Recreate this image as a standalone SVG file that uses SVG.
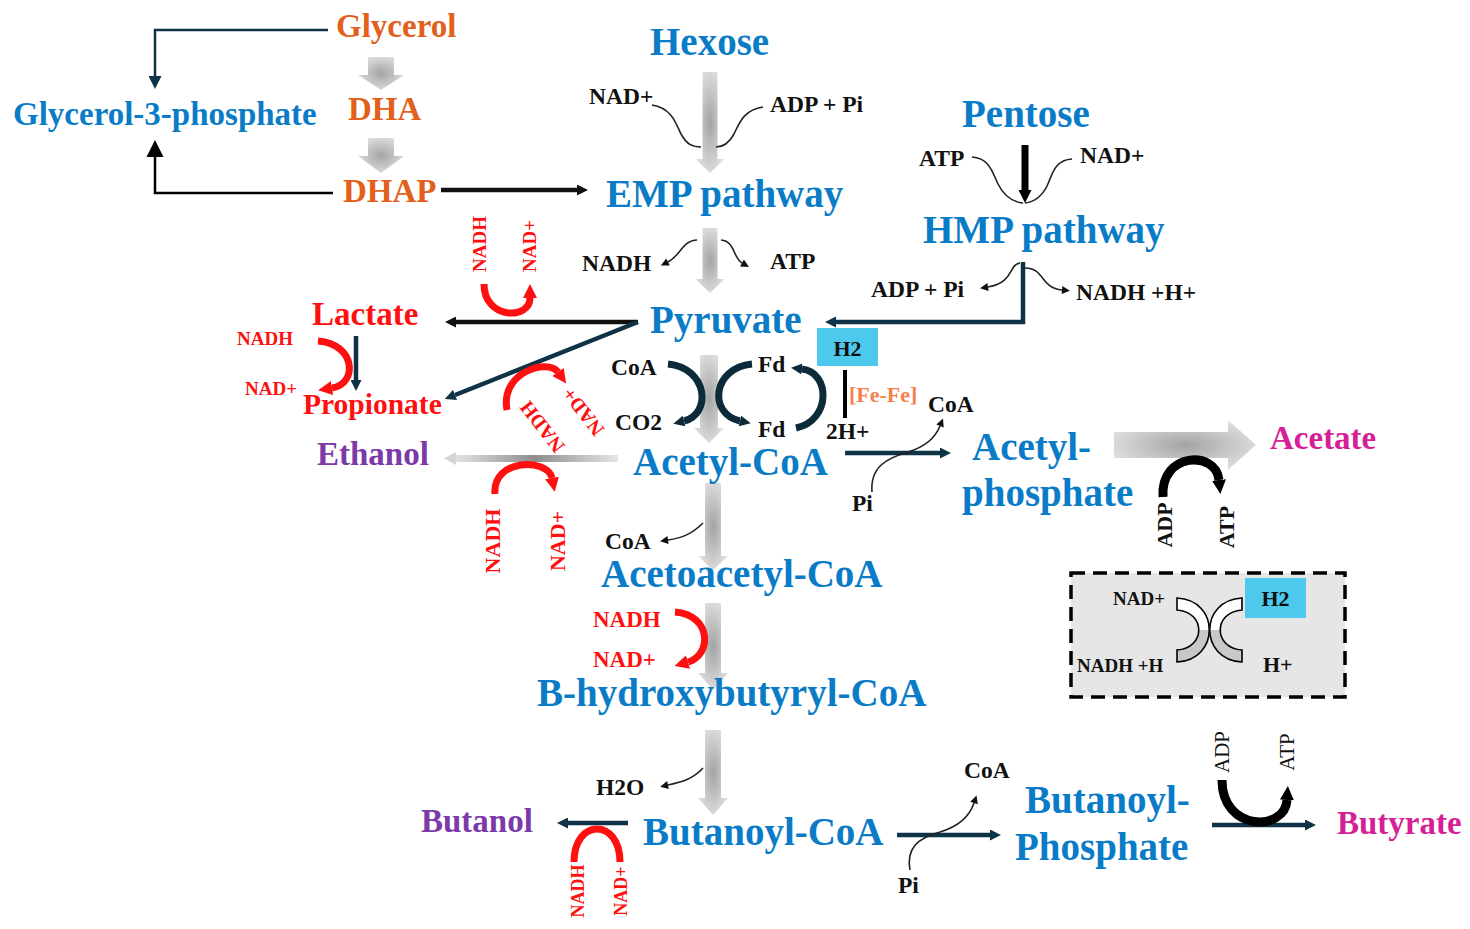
<svg xmlns="http://www.w3.org/2000/svg" width="1470" height="929" viewBox="0 0 1470 929">
<style>
text{font-family:'Liberation Serif','Times New Roman',serif;font-weight:bold}
.blue{fill:#0a7cc7;font-size:39px}
.blue32{fill:#0a7cc7;font-size:33px}
.org{fill:#e2601a;font-size:33px}
.red{fill:#ff1010;font-size:33px}
.pur{fill:#7b3aa8;font-size:33px}
.mag{fill:#d61f96;font-size:33px}
.k{fill:#111;font-size:23.5px}
.rs{fill:#ff1010}
.rot{dominant-baseline:central;text-anchor:middle}
.blk{fill:url(#gr);stroke:none}
.ln{fill:none;stroke:#0f3346;stroke-width:4.5}
.lk{fill:none;stroke:#111;stroke-width:4.5}
.th{fill:none;stroke:#222;stroke-width:1.6}
.arcd{fill:none;stroke:#0c2a3a;stroke-width:7}
.arcr{fill:none;stroke:#ff1010;stroke-width:7}
.arck{fill:none;stroke:#000;stroke-width:9}
.h2{fill:#4dc9ee}
</style>
<defs>
<radialGradient id="gr" cx="0.5" cy="0.5" r="0.6">
<stop offset="0" stop-color="#a4a4a4"/><stop offset="1" stop-color="#e4e4e4"/>
</radialGradient>
<linearGradient id="gh" x1="0" y1="0" x2="1" y2="0">
<stop offset="0" stop-color="#e6e6e6"/><stop offset="0.5" stop-color="#8e8e8e"/><stop offset="1" stop-color="#e6e6e6"/>
</linearGradient>
<linearGradient id="band" x1="0" y1="0" x2="0" y2="1">
<stop offset="0.5" stop-color="#ffffff"/><stop offset="0.5" stop-color="#c8c8c8"/>
</linearGradient>
<marker id="mS" viewBox="0 0 10 10" refX="0" refY="5" markerWidth="16" markerHeight="13" markerUnits="userSpaceOnUse" orient="auto"><path d="M0,0L10,5L0,10Z" fill="#0f3346"/></marker>
<marker id="mB" viewBox="0 0 10 10" refX="0" refY="5" markerWidth="17" markerHeight="24" markerUnits="userSpaceOnUse" orient="auto"><path d="M0,0L10,5L0,10Z" fill="#000"/></marker>
<marker id="mK" viewBox="0 0 10 10" refX="0" refY="5" markerWidth="13" markerHeight="11" markerUnits="userSpaceOnUse" orient="auto"><path d="M0,0L10,5L0,10Z" fill="#111"/></marker>
<marker id="mD" viewBox="0 0 10 10" refX="0" refY="5" markerWidth="13" markerHeight="11" markerUnits="userSpaceOnUse" orient="auto"><path d="M0,0L10,5L0,10Z" fill="#0f3346"/></marker>
<marker id="mP" viewBox="0 0 10 10" refX="0" refY="5" markerWidth="13" markerHeight="16" markerUnits="userSpaceOnUse" orient="auto"><path d="M0,0L10,5L0,10Z" fill="#000"/></marker>
<marker id="mT" viewBox="0 0 10 10" refX="0" refY="5" markerWidth="9" markerHeight="8" markerUnits="userSpaceOnUse" orient="auto"><path d="M0,0L10,5L0,10Z" fill="#111"/></marker>
<marker id="mR" viewBox="0 0 10 10" refX="0" refY="5" markerWidth="14" markerHeight="18" markerUnits="userSpaceOnUse" orient="auto"><path d="M0,0L10,5L0,10Z" fill="#ff1010"/></marker>
<marker id="mA" viewBox="0 0 10 10" refX="0" refY="5" markerWidth="11" markerHeight="16" markerUnits="userSpaceOnUse" orient="auto"><path d="M0,0L10,5L0,10Z" fill="#0c2a3a"/></marker>
<marker id="mBk" viewBox="0 0 10 10" refX="0" refY="5" markerWidth="14" markerHeight="21" markerUnits="userSpaceOnUse" orient="auto"><path d="M0,0L10,5L0,10Z" fill="#000"/></marker>
</defs>
<rect width="1470" height="929" fill="#fff"/>

<g id="connectors">
<path class="blk" d="M368,57H394V75H404L381,90L358,75H368Z"/>
<path class="blk" d="M368,138H394V156H404L381,173L358,156H368Z"/>
<path class="blk" d="M702.5,72H717.5V159H724.5L710,173L695.5,159H702.5Z"/>
<path class="blk" d="M702.5,228H717.5V279H724.5L710,293L695.5,279H702.5Z"/>
<path class="blk" d="M700,355H718V428H724L709,443L694,428H700Z"/>
<path class="blk" d="M705,483H721V556H728L713,570L698,556H705Z"/>
<path class="blk" d="M705,603H721V673H728L713,690L698,673H705Z"/>
<path class="blk" d="M705,730H721V798H728L713,815L698,798H705Z"/>
<path class="blk" d="M1114,432H1228V420L1256,445L1228,470V458H1114Z"/>
<rect x="452" y="455" width="166" height="7" fill="url(#gh)"/>
<path d="M444,458.5L456,452V465Z" fill="#d6d6d6"/>

<path d="M328,30H155V76" fill="none" stroke="#0f3346" stroke-width="2.5" marker-end="url(#mS)"/>
<path d="M333,193H155V157" fill="none" stroke="#000" stroke-width="2.5" marker-end="url(#mB)"/>
<path class="lk" d="M441,190H577" marker-end="url(#mK)"/>
<path class="lk" d="M638,322H456" stroke-width="5" marker-end="url(#mK)"/>
<path class="ln" d="M638,322L455,395" stroke-width="5" marker-end="url(#mD)"/>
<path class="ln" d="M356,336V380" marker-end="url(#mD)"/>
<path class="ln" d="M1023,262V322H836" stroke-width="5" marker-end="url(#mD)"/>
<path d="M1025,145V190" fill="none" stroke="#000" stroke-width="7" marker-end="url(#mP)"/>
<path d="M845,370V418" fill="none" stroke="#000" stroke-width="4"/>
<path class="ln" d="M845,453H940" marker-end="url(#mD)"/>
<path class="ln" d="M628,823H568" stroke-width="5" marker-end="url(#mD)"/>
<path class="ln" d="M897,835H990" marker-end="url(#mD)"/>
<path class="ln" d="M1212,825H1305" marker-end="url(#mD)"/>

<path class="th" d="M652,105C672,108 676,124 681,134C687,145 693,147 701,147"/>
<path class="th" d="M763,107C743,110 739,124 734,134C728,145 722,147 716,147"/>
<path class="th" d="M697,240C683,240 680,256 668,262" marker-end="url(#mT)"/>
<path class="th" d="M721,240C735,241 733,258 742,263" marker-end="url(#mT)"/>
<path class="th" d="M972,157C990,158 993,174 998,184C1004,196 1012,202 1023,203"/>
<path class="th" d="M1072,159C1054,160 1052,176 1047,186C1042,196 1034,202 1025,203"/>
<path class="th" d="M1020,263C1008,265 1014,283 988,287" marker-end="url(#mT)"/>
<path class="th" d="M1025,268C1045,268 1040,288 1062,290" marker-end="url(#mT)"/>
<path class="th" d="M872,492C870,466 888,458 908,452C928,446 936,436 940,426" marker-end="url(#mT)"/>
<path class="th" d="M703,523C692,534 682,538 668,540" marker-end="url(#mT)"/>
<path class="th" d="M703,768C693,779 682,782 668,785" marker-end="url(#mT)"/>
<path class="th" d="M910,870C906,848 918,838 940,832C960,826 970,815 974,803" marker-end="url(#mT)"/>

<path class="arcd" d="M668,364C708,368 712,414 684,421" marker-end="url(#mA)"/>
<path class="arcd" d="M752,364C712,368 708,414 740,421" marker-end="url(#mA)"/>
<path class="arcd" d="M796,428C832,420 830,372 802,369" marker-end="url(#mA)"/>

<path class="arcr" d="M484,284C484,320 530,320 530,298" marker-end="url(#mR)"/>
<path class="arcr" d="M318,341C356,344 358,384 332,388" marker-end="url(#mR)"/>
<path class="arcr" d="M507,410C500,372 548,358 558,372" marker-end="url(#mR)"/>
<path class="arcr" d="M495,494C492,458 548,458 552,478" marker-end="url(#mR)"/>
<path class="arcr" d="M675,612C712,615 712,655 688,662" marker-end="url(#mR)"/>
<path class="arcr" d="M574,862C574,818 620,818 620,862" stroke-width="8"/>

<path class="arck" d="M1163,497C1160,452 1216,450 1219,480" marker-end="url(#mBk)"/>
<path class="arck" d="M1222,780C1222,832 1285,832 1287,800" marker-end="url(#mBk)"/>
</g>

<g id="cofactors">
<text class="k" x="589" y="104">NAD+</text>
<text class="k" x="770" y="112">ADP + Pi</text>
<text class="k" x="582" y="271">NADH</text>
<text class="k" x="770" y="269">ATP</text>
<text class="k" x="919" y="166">ATP</text>
<text class="k" x="1080" y="163">NAD+</text>
<text class="k" x="871" y="297">ADP + Pi</text>
<text class="k" x="1076" y="300">NADH +H+</text>
<text class="k" x="611" y="375">CoA</text>
<text class="k" x="615" y="430">CO2</text>
<text class="k" x="758" y="372">Fd</text>
<text class="k" x="758" y="437">Fd</text>
<text x="849" y="402" style="fill:#f4814a;font-size:22px">[Fe-Fe]</text>
<text class="k" x="928" y="412">CoA</text>
<text class="k" x="826" y="439">2H+</text>
<text class="k" x="852" y="511">Pi</text>
<text class="k" x="605" y="549">CoA</text>
<text class="k" x="596" y="795">H2O</text>
<text class="k" x="964" y="778">CoA</text>
<text class="k" x="898" y="893">Pi</text>
<text class="rs" x="237" y="345" style="font-size:19px">NADH</text>
<text class="rs" x="245" y="395" style="font-size:19px">NAD+</text>
<text class="rs" x="593" y="627" style="font-size:23px">NADH</text>
<text class="rs" x="593" y="667" style="font-size:23px">NAD+</text>
<text class="rs rot" transform="translate(479,244) rotate(-90)" style="font-size:19px">NADH</text>
<text class="rs rot" transform="translate(529,246) rotate(-90)" style="font-size:19px">NAD+</text>
<text class="rs rot" transform="translate(542,427) rotate(-128)" style="font-size:20px">NADH</text>
<text class="rs rot" transform="translate(583,412) rotate(-128)" style="font-size:20px">NAD+</text>
<text class="rs rot" transform="translate(492,541) rotate(-90)" style="font-size:22px">NADH</text>
<text class="rs rot" transform="translate(557,541) rotate(-90)" style="font-size:22px">NAD+</text>
<text class="rs rot" transform="translate(578,891) rotate(-90)" style="font-size:18px">NADH</text>
<text class="rs rot" transform="translate(621,891) rotate(-90)" style="font-size:18px">NAD+</text>
<text class="rot" transform="translate(1164,525) rotate(-90)" style="fill:#111;font-size:22px">ADP</text>
<text class="rot" transform="translate(1226,527) rotate(-90)" style="fill:#111;font-size:22px">ATP</text>
<text class="rot" transform="translate(1222,752) rotate(-90)" style="fill:#111;font-size:21px;font-weight:normal">ADP</text>
<text class="rot" transform="translate(1287,752) rotate(-90)" style="fill:#111;font-size:21px;font-weight:normal">ATP</text>
</g>

<g id="n-glycerol"><text class="org" x="336" y="37">Glycerol</text></g>
<g id="n-g3p"><text class="blue32" x="13" y="125">Glycerol-3-phosphate</text></g>
<g id="n-dha"><text class="org" x="348" y="120">DHA</text></g>
<g id="n-dhap"><text class="org" x="343" y="202">DHAP</text></g>
<g id="n-hexose"><text class="blue" x="650" y="55">Hexose</text></g>
<g id="n-emp"><text class="blue" x="606" y="207">EMP pathway</text></g>
<g id="n-pentose"><text class="blue" x="962" y="127">Pentose</text></g>
<g id="n-hmp"><text class="blue" x="923" y="243">HMP pathway</text></g>
<g id="n-pyruvate"><text class="blue" x="650" y="333">Pyruvate</text></g>
<g id="n-lactate"><text class="red" x="312" y="325">Lactate</text></g>
<g id="n-propionate"><text class="red" x="303" y="414" style="font-size:29.5px">Propionate</text></g>
<g id="n-ethanol"><text class="pur" x="317" y="465">Ethanol</text></g>
<g id="n-acetylcoa"><text class="blue" x="633" y="475">Acetyl-CoA</text></g>
<g id="n-h2-fe"><rect class="h2" x="817" y="328" width="61" height="38"/><text x="847.5" y="356" text-anchor="middle" style="fill:#111;font-size:22px">H2</text></g>
<g id="n-acetylp"><text class="blue" x="972" y="460">Acetyl-</text><text class="blue" x="962" y="506">phosphate</text></g>
<g id="n-acetate"><text class="mag" x="1270" y="449">Acetate</text></g>
<g id="n-acetoacetyl"><text class="blue" x="601" y="587">Acetoacetyl-CoA</text></g>
<g id="n-bhb"><text class="blue" x="537" y="706">B-hydroxybutyryl-CoA</text></g>
<g id="n-butanoylcoa"><text class="blue" x="643" y="845">Butanoyl-CoA</text></g>
<g id="n-butanol"><text class="pur" x="421" y="832">Butanol</text></g>
<g id="n-butanoylp"><text class="blue" x="1025" y="813">Butanoyl-</text><text class="blue" x="1015" y="860">Phosphate</text></g>
<g id="n-butyrate"><text class="mag" x="1337" y="834">Butyrate</text></g>
<g id="n-hydrogenase">
<rect x="1071" y="573" width="274" height="124" fill="#e6e6e6" stroke="#000" stroke-width="3.5" stroke-dasharray="14,8"/>
<rect class="h2" x="1245" y="578" width="61" height="40"/>
<text x="1275.5" y="606" text-anchor="middle" style="fill:#111;font-size:22px">H2</text>
<path d="M1177,598C1220,600 1220,660 1177,662L1177,650C1206,648 1206,612 1177,610Z" fill="url(#band)" stroke="#000" stroke-width="1.6"/>
<path d="M1242,598C1199,600 1199,660 1242,662L1242,650C1213,648 1213,612 1242,610Z" fill="url(#band)" stroke="#000" stroke-width="1.6"/>
<text x="1113" y="605" style="fill:#111;font-size:19px">NAD+</text>
<text x="1077" y="672" style="fill:#111;font-size:19px">NADH +H</text>
<text x="1263" y="672" style="fill:#111;font-size:22px">H+</text>
</g>
</svg>
